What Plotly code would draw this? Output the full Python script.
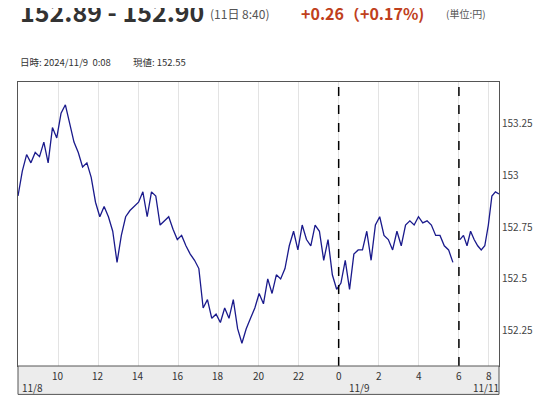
import numpy as np
import pandas as pd
import plotly.graph_objects as go

# prices, 11/8 8:00 -> 11/9 ~5:40, then 11/11 6:00 -> ~8:40
price_a = [152.90, 153.02, 153.10, 153.06, 153.11, 153.09, 153.16, 153.06, 153.23, 153.18,
           153.30, 153.34, 153.25, 153.16, 153.11, 153.04, 153.06, 152.99, 152.87, 152.80,
           152.85, 152.80, 152.73, 152.58, 152.71, 152.80, 152.83, 152.85, 152.87, 152.92,
           152.80, 152.92, 152.90, 152.76, 152.78, 152.80, 152.74, 152.69, 152.71, 152.66,
           152.62, 152.59, 152.55, 152.36, 152.40, 152.31, 152.33, 152.29, 152.36, 152.31,
           152.40, 152.26, 152.19, 152.26, 152.31, 152.36, 152.43, 152.38, 152.50, 152.43,
           152.52, 152.50, 152.55, 152.66, 152.73, 152.64, 152.76, 152.69, 152.66, 152.76,
           152.73, 152.59, 152.69, 152.52, 152.45, 152.48, 152.59, 152.45, 152.62, 152.64,
           152.64, 152.73, 152.59, 152.76, 152.80, 152.71, 152.69, 152.64, 152.73, 152.66,
           152.76, 152.78, 152.76, 152.80, 152.77, 152.78, 152.76, 152.71, 152.71, 152.66,
           152.64, 152.58]
price_b = [152.69, 152.71, 152.66, 152.73, 152.69, 152.66, 152.64, 152.66, 152.76, 152.90,
           152.92, 152.91]

# chart-hour positions (weekend gap collapsed): 0 = 11/8 8:00
t_a = np.linspace(0, 21.7, len(price_a))
t_b = np.linspace(22.05, 24.0, len(price_b))

tick_pos = [2, 4, 6, 8, 10, 12, 14, 16, 18, 20, 22, 23.5]
tick_txt = ['10', '12', '14', '16', '18', '20', '22', '0', '2', '4', '6', '8']
date_pos = [0.1, 16.4, 22.6]
date_txt = ['11/8', '11/9', '11/11']
ytick_vals = [152.25, 152.5, 152.75, 153, 153.25]
ytick_txt = ['152.25', '152.5', '152.75', '153', '153.25']

x = list(t_a) + [None] + list(t_b)
y = price_a + [None] + price_b

fig = go.Figure()
fig.add_trace(go.Scatter(x=x, y=y, mode='lines', line=dict(color='#1a1a8c', width=1.3),
                         connectgaps=False, showlegend=False, hoverinfo='skip'))

for d in [16, 22]:
    fig.add_vline(x=d, line=dict(color='black', width=1.5, dash='dash'))

# gray band for time labels
fig.add_shape(type='rect', xref='paper', yref='paper', x0=0, x1=1, y0=-0.1, y1=0,
              fillcolor='#ececec', line=dict(color='#555', width=1))
font_s = dict(family='Noto Sans CJK JP', size=10, color='#333')
for p, t in zip(tick_pos, tick_txt):
    fig.add_annotation(x=p, y=-0.0, xref='x', yref='paper', text=t, showarrow=False,
                       yanchor='top', font=font_s)
for p, t in zip(date_pos, date_txt):
    fig.add_annotation(x=p, y=-0.042, xref='x', yref='paper', text=t, showarrow=False,
                       yanchor='top', xanchor='left', font=font_s)

fig.update_xaxes(range=[0, 24], tickvals=tick_pos, showticklabels=False, showgrid=True,
                 gridcolor='#e3e3e3', zeroline=False, showline=True, linecolor='#555', mirror=True)
fig.update_yaxes(range=[152.08, 153.45], side='right', tickvals=ytick_vals, ticktext=ytick_txt,
                 showgrid=False, zeroline=False, showline=True, linecolor='#555', mirror=True,
                 tickfont=dict(family='Noto Sans CJK JP', size=10, color='#444'))

# header text
hdr = [
    (0.0, 1.25, '<b>152.89 - 152.90</b>', 25, '#333'),
    (0.395, 1.24, '(11日 8:40)', 12, '#555'),
    (0.585, 1.243, '<b>+0.26（+0.17%)</b>', 16, '#c0401c'),
    (0.885, 1.24, '(単位:円)', 10, '#555'),
    (0.0, 1.072, '日時: 2024/11/9  0:08', 9.5, '#333'),
    (0.235, 1.072, '現値: 152.55', 9.5, '#333'),
]
for xx, yy, t, s, c in hdr:
    fig.add_annotation(x=xx, y=yy, xref='paper', yref='paper', text=t, showarrow=False,
                       xanchor='left', yanchor='middle',
                       font=dict(family='Noto Sans CJK JP', size=s, color=c))

fig.update_layout(width=549, height=400, margin=dict(l=10, r=58, t=74, b=42),
                  plot_bgcolor='white', paper_bgcolor='white')

fig.write_html('out.html')
